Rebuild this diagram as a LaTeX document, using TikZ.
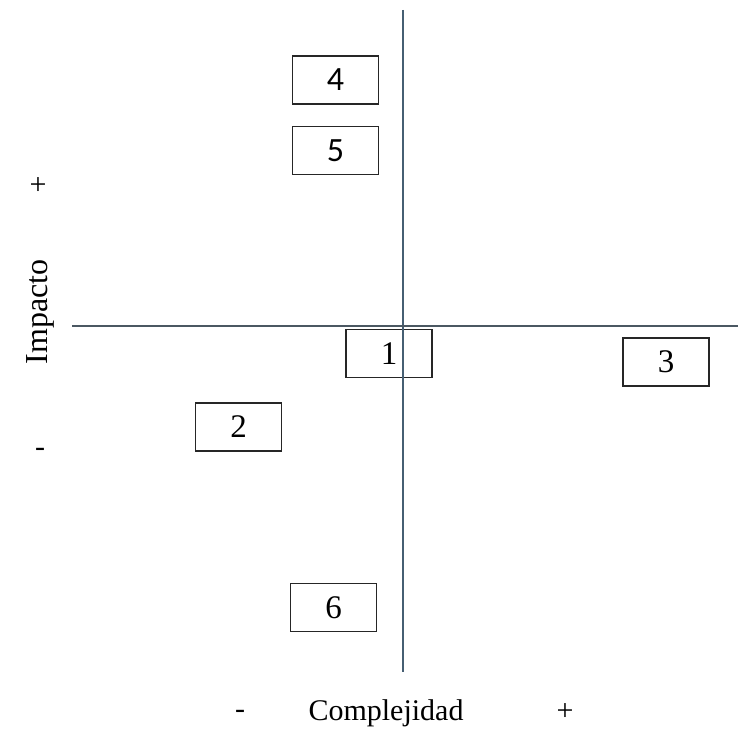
\documentclass[tikz,border=0pt]{standalone}
\usepackage{fontspec}
\setmainfont{Liberation Serif}
\newfontfamily\calib{Carlito}
\begin{document}
\begin{tikzpicture}[x=1pt,y=-1pt,
  itembox/.style={draw=black!85,line width=1.4pt,minimum width=86pt,minimum height=48pt,inner sep=0pt,font=\fontsize{33}{33}\selectfont},
  axis/.style={line width=1.8pt},
  lbl/.style={font=\fontsize{30}{30}\selectfont,inner sep=0pt}]
\useasboundingbox (0,0) rectangle (741,730);
\node[itembox,font=\calib\fontsize{34}{34}\selectfont] (b4) at (335.5,80) {4};
\node[itembox,font=\calib\fontsize{34}{34}\selectfont] (b5) at (335.5,150.5) {5};
\node[itembox] (b1) at (389,353.5) {1};
\node[itembox] (b3) at (666,362) {3};
\node[itembox] (b2) at (238.5,427) {2};
\node[itembox] (b6) at (333.5,607.5) {6};
\coordinate (vt) at (403,10);
\coordinate (vb) at (403,672);
\coordinate (hl) at (72,326);
\coordinate (hr) at (738,326);
\draw[axis,draw={rgb,255:red,70;green,95;blue,115}] (vt) -- (vb);
\draw[axis,draw={rgb,255:red,75;green,88;blue,98}] (hl) -- (hr);
\node[lbl] (ip) at (38,186) {+};
\node[lbl] (im) at (40,452) {-};
\node[lbl,rotate=90,font=\fontsize{32}{32}\selectfont] (imp) at (40,312) {Impacto};
\node[lbl] (cm) at (240,714) {-};
\node[lbl] (cx) at (386,713) {Complejidad};
\node[lbl] (cp) at (565,712) {+};
\end{tikzpicture}
\end{document}
